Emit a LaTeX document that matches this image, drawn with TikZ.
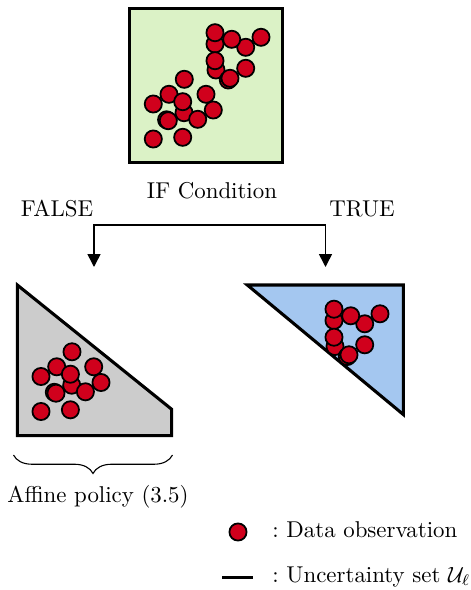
\documentclass[tikz,border=0pt]{standalone}
\usetikzlibrary{arrows.meta,decorations.pathreplacing}
\definecolor{obsred}{RGB}{208,0,28}
\definecolor{condgreen}{RGB}{219,242,198}
\definecolor{setblue}{RGB}{164,199,240}
\definecolor{setgray}{RGB}{204,204,204}
\tikzset{
  obs/.style={circle,draw=black,line width=0.8pt,fill=obsred,minimum size=7.8pt,inner sep=0pt},
  setline/.style={line width=1.4pt,line join=miter},
  lbl/.style={inner sep=0pt,font=\fontsize{10.4}{12.5}\selectfont},
  arr/.style={line width=0.7pt,{Triangle[length=5.8pt,width=5.8pt]}-{Triangle[length=5.8pt,width=5.8pt]}},
}
\newcommand{\lowcluster}{%
  \node[obs] (a5) at (184,112.7) {};
  \node[obs] (a1) at (184.3,79.3) {};
  \node[obs] (a2) at (169,94.3) {};
  \node[obs] (a3) at (153.3,104) {};
  \node[obs] (a4) at (182.7,101.7) {};
  \node[obs] (a6) at (206,94.3) {};
  \node[obs] (a8) at (197.7,119.3) {};
  \node[obs] (a7) at (213.3,110) {};
  \node[obs] (a9s) at (166.6,119.8) {};
  \node[obs] (a9) at (168.3,120.7) {};
  \node[obs] (a10) at (153.3,139) {};
  \node[obs] (a11) at (182.7,137.3) {};
}
\newcommand{\topcluster}{%
  \node[obs] (b2) at (215,44) {};
  \node[obs] (b1) at (215,32.7) {};
  \node[obs] (b4) at (245.7,47.3) {};
  \node[obs] (b3) at (231.7,39.3) {};
  \node[obs] (b5) at (261,37.3) {};
  \node[obs] (b7) at (216,70) {};
  \node[obs] (b6) at (215,60.7) {};
  \node[obs] (b8s) at (228.3,80) {};
  \node[obs] (b8) at (230,78.3) {};
  \node[obs] (b9) at (245.7,68.3) {};
}
\begin{document}
\begin{tikzpicture}[x=0.4545pt,y=-0.4545pt]
\useasboundingbox (0,0) rectangle (470,590);
% condition box
\node[draw=black,line width=1.4pt,fill=condgreen,minimum width=69.6pt,minimum height=69.6pt,inner sep=0pt] (cond) at (206,85.5) {};
\lowcluster
\topcluster
\node[lbl] (iflabel) at (212,191) {IF Condition};
\node[lbl] (false) at (57,209) {FALSE};
\node[lbl] (true) at (362,209) {TRUE};
% branch connector
\coordinate (fl) at (94,225);
\coordinate (tr) at (325.5,225);
\coordinate (fa) at (94,267);
\coordinate (ta) at (325.5,267);
\draw[arr] (fa) -- (fl) -- (tr) -- (ta);
% false set
\draw[setline,fill=setgray] (17.3,285) -- (171.7,409.3) -- (171.7,435.7) -- (17.3,435.7) -- cycle;
\begin{scope}[shift={(-112.3,272.5)},name prefix=L-]
\lowcluster
\end{scope}
% true set
\draw[setline,fill=setblue] (247.3,285) -- (403.3,285) -- (403.3,414.5) -- cycle;
\begin{scope}[shift={(119,276.5)},name prefix=R-]
\topcluster
\end{scope}
% brace
\coordinate (brl) at (13.5,455);
\coordinate (brr) at (172.5,455);
\draw[line width=0.5pt,decorate,decoration={brace,mirror,amplitude=8.4pt}] (brl) -- (brr);
\node[lbl] (affine) at (98,497) {Affine policy (3.5)};
% legend
\node[obs] (legobs) at (238,532) {};
\node[lbl,anchor=west] (legobstxt) at (272,530) {:\ Data observation};
\coordinate (legl) at (222,577.5);
\coordinate (legr) at (253,577.5);
\draw[line width=1.2pt] (legl) -- (legr);
\node[lbl,anchor=west] (legsettxt) at (272,577) {:\ Uncertainty set $\mathcal{U}_\ell$};
\end{tikzpicture}
\end{document}
